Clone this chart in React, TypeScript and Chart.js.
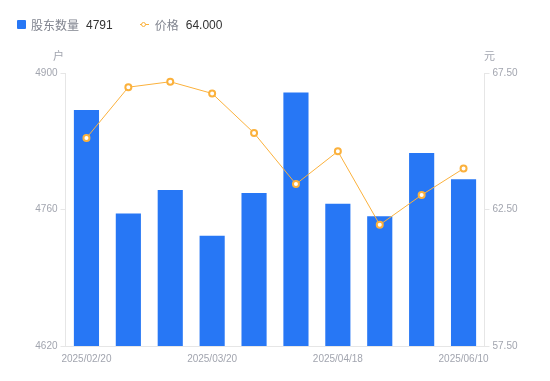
import React, { useEffect, useRef } from "react";
import { Chart, registerables } from "chart.js";

Chart.register(...registerables);

const categories = [
  "2025/02/20", "2025/02/28", "2025/03/10", "2025/03/20", "2025/03/31",
  "2025/04/10", "2025/04/18", "2025/04/30", "2025/05/20", "2025/06/10",
];
const holders = [4862, 4756, 4780, 4733, 4777, 4880, 4766, 4753, 4818, 4791];
const prices = [65.12, 66.98, 67.18, 66.75, 65.3, 63.43, 64.63, 61.94, 63.03, 64.0];
const leftTicks = [4620, 4760, 4900];
const rightTicks = [57.5, 62.5, 67.5];

const BAR = "#2777F5";
const LINE = "#FBB13C";
const AXIS_TEXT = "#a2a5af";
const FONT = "'Liberation Sans', 'Noto Sans CJK SC', sans-serif";

export default function App() {
  const ref = useRef<HTMLCanvasElement>(null);
  useEffect(() => {
    document.body.style.margin = "0";
    const ctx = ref.current!.getContext("2d")!;
    const titles = {
      id: "axisTitles",
      afterDraw(chart: any) {
        const c = chart.ctx;
        const a = chart.chartArea;
        c.save();
        c.font = `11px ${FONT}`;
        c.fillStyle = AXIS_TEXT;
        c.textAlign = "center";
        c.textBaseline = "middle";
        c.fillText("户", a.left - 7, a.top - 16);
        c.fillText("元", a.right + 5, a.top - 16);
        c.restore();
      },
    };
    const chart = new Chart(ctx, {
      type: "bar",
      data: {
        labels: categories,
        datasets: [
          {
            type: "line",
            label: "价格",
            data: prices,
            yAxisID: "y1",
            borderColor: LINE,
            borderWidth: 1,
            pointRadius: 3,
            pointBorderWidth: 2,
            pointBackgroundColor: "#ffffff",
            pointBorderColor: LINE,
            tension: 0,
            order: 0,
          } as any,
          {
            type: "bar",
            label: "股东数量",
            data: holders,
            yAxisID: "y",
            backgroundColor: BAR,
            borderWidth: 0,
            categoryPercentage: 1,
            barPercentage: 0.6,
            order: 1,
          },
        ],
      },
      options: {
        animation: false,
        responsive: false,
        layout: { padding: { top: 73, left: 0, right: 0, bottom: 0 } },
        plugins: { legend: { display: false }, tooltip: { enabled: false } },
        scales: {
          x: {
            grid: { display: false, drawTicks: false },
            border: { display: true, color: "#e6e6e6" },
            afterFit(s: any) { s.height = 35; },
            ticks: {
              autoSkip: false,
              maxRotation: 0,
              padding: 7,
              color: AXIS_TEXT,
              font: { family: FONT, size: 10 },
              callback: (_v: any, i: number) => (i % 3 === 0 ? categories[i] : ""),
            },
          },
          y: {
            position: "left",
            min: leftTicks[0],
            max: leftTicks[leftTicks.length - 1],
            afterBuildTicks(s: any) { s.ticks = leftTicks.map((v) => ({ value: v })); },
            afterFit(s: any) { s.width = 65.5; },
            grid: { drawOnChartArea: false, drawTicks: true, tickLength: 5, color: "#e6e6e6" },
            border: { display: true, color: "#e6e6e6" },
            ticks: {
              padding: 3,
              color: AXIS_TEXT,
              font: { family: FONT, size: 10 },
              callback: (v: any) => String(v),
            },
          },
          y1: {
            position: "right",
            min: rightTicks[0],
            max: rightTicks[rightTicks.length - 1],
            afterBuildTicks(s: any) { s.ticks = rightTicks.map((v) => ({ value: v })); },
            afterFit(s: any) { s.width = 65.5; },
            grid: { drawOnChartArea: false, drawTicks: true, tickLength: 5, color: "#e6e6e6" },
            border: { display: true, color: "#e6e6e6" },
            ticks: {
              padding: 3,
              color: AXIS_TEXT,
              font: { family: FONT, size: 10 },
              callback: (v: any) => Number(v).toFixed(2),
            },
          },
        },
      },
      plugins: [titles],
    });
    return () => chart.destroy();
  }, []);

  const lbl: React.CSSProperties = { color: "#80848f" };
  const val: React.CSSProperties = { color: "#333333", marginLeft: 7 };
  return (
    <div style={{ position: "relative", width: 550, height: 381, fontFamily: FONT, fontSize: 12 }}>
      <canvas ref={ref} width={550} height={381} style={{ display: "block" }} />
      <div style={{ position: "absolute", left: 17, top: 17, display: "flex", alignItems: "center", height: 15, whiteSpace: "nowrap" }}>
        <span style={{ width: 9, height: 9, background: BAR, borderRadius: 1, display: "inline-block", marginRight: 5 }} />
        <span style={lbl}>股东数量</span>
        <span style={val}>4791</span>
        <span style={{ position: "relative", width: 9, height: 9, display: "inline-block", marginLeft: 27, marginRight: 6 }}>
          <span style={{ position: "absolute", left: 0, top: 4, width: 9, height: 1, background: LINE }} />
          <span style={{ position: "absolute", left: 1.5, top: 1.5, width: 3, height: 3, borderRadius: "50%", border: `1.5px solid ${LINE}`, background: "#fff" }} />
        </span>
        <span style={lbl}>价格</span>
        <span style={val}>64.000</span>
      </div>
    </div>
  );
}
